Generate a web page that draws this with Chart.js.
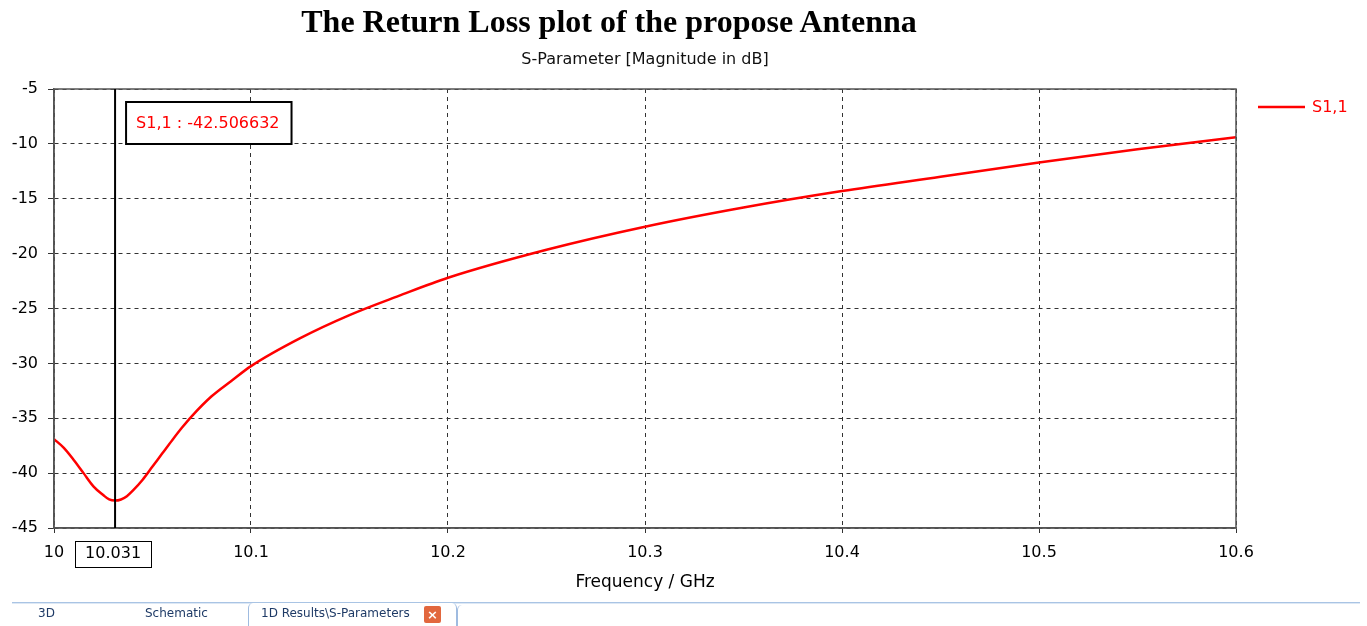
<!DOCTYPE html>
<html>
<head>
<meta charset="utf-8">
<script src="https://cdn.jsdelivr.net/npm/chart.js"></script>
<style>
  body { margin: 0; background: #fff; }
  #wrap { position: relative; width: 1367px; height: 626px; overflow: hidden; }
  #chart { position: absolute; left: 0; top: 0; }
  .txt { position: absolute; white-space: nowrap; }
  #title { left: 0; width: 1218px; top: 3px; text-align: center; font: bold 32px "Liberation Serif", serif; color: #000; }
  #subtitle { left: 0; width: 1290px; top: 49px; text-align: center; font: 16px "DejaVu Sans", sans-serif; color: #111; }
  #tabline { position: absolute; left: 12px; top: 602px; width: 1348px; height: 1px; background: #a9c4e4; }
  #tabline2 { position: absolute; left: 12px; top: 603px; width: 1348px; height: 1px; background: #dde8f5; }
  #activeTab { position: absolute; left: 248px; top: 603px; width: 207px; height: 30px; border: 1px solid #9fbbe0; border-top: none; border-radius: 5px 5px 0 0; background: #fff; }
  #nextTab { position: absolute; left: 457px; top: 605px; width: 900px; height: 30px; border-left: 1px solid #9fbbe0; border-radius: 5px 0 0 0; }
  .tab { top: 606px; font: 12px "DejaVu Sans", sans-serif; color: #1e3a66; }
  #close { position: absolute; left: 424px; top: 606px; width: 17px; height: 17px; background: #e2673e; border-radius: 2px; color: #fff; font: bold 13px "DejaVu Sans", sans-serif; line-height: 17px; text-align: center; }
</style>
</head>
<body>
<div id="wrap">
  <canvas id="chart" width="1367" height="626"></canvas>
  <div class="txt" id="title">The Return Loss plot of the propose Antenna</div>
  <div class="txt" id="subtitle">S-Parameter [Magnitude in dB]</div>
  <div id="tabline"></div>
  <div id="tabline2"></div>
  <div id="activeTab"></div>
  <div id="nextTab"></div>
  <div class="txt tab" style="left:38px">3D</div>
  <div class="txt tab" style="left:145px">Schematic</div>
  <div class="txt tab" style="left:261px">1D Results\S-Parameters</div>
  <div id="close">×</div>
</div>
<script>
// S11 curve
const freq = [10.0, 10.005, 10.01, 10.015, 10.02, 10.025, 10.028, 10.031, 10.034, 10.037, 10.04, 10.045,
  10.05, 10.055, 10.06, 10.065, 10.07, 10.08, 10.09, 10.1, 10.125, 10.15,
  10.175, 10.2, 10.25, 10.3, 10.35, 10.4, 10.45, 10.5, 10.55, 10.6];
const s11 = [-36.9, -37.7, -38.8, -40.0, -41.2, -42.0, -42.4, -42.5, -42.4, -42.1, -41.6, -40.6,
  -39.4, -38.2, -37.0, -35.85, -34.8, -33.0, -31.6, -30.25, -27.7, -25.6,
  -23.85, -22.2, -19.65, -17.55, -15.8, -14.3, -13.0, -11.7, -10.5, -9.4];

const xTicks = [10, 10.1, 10.2, 10.3, 10.4, 10.5, 10.6];
const yTicks = [-5, -10, -15, -20, -25, -30, -35, -40, -45];

const markerFreq = 10.031;
const markerValue = -42.506632;
const seriesName = 'S1,1';
const lineColor = '#ff0000';

const FONT = '"DejaVu Sans", sans-serif';

// frame, marker line, marker labels and legend
const overlay = {
  id: 'overlay',
  afterDatasetsDraw(chart) {
    const { ctx, chartArea: a, scales: { x } } = chart;
    ctx.save();

    // plot frame
    ctx.strokeStyle = '#555';
    ctx.lineWidth = 1.5;
    ctx.setLineDash([]);
    ctx.strokeRect(a.left, a.top, a.right - a.left, a.bottom - a.top);

    // vertical marker
    const mx = x.getPixelForValue(markerFreq);
    ctx.strokeStyle = '#000';
    ctx.lineWidth = 2;
    ctx.beginPath();
    ctx.moveTo(mx, a.top);
    ctx.lineTo(mx, a.bottom);
    ctx.stroke();

    // value box
    ctx.font = '16px ' + FONT;
    const txt = seriesName + ' : ' + markerValue.toFixed(6);
    const tw = ctx.measureText(txt).width;
    const bx = mx + 11, by = a.top + 13, bw = tw + 22, bh = 42;
    ctx.fillStyle = '#fff';
    ctx.fillRect(bx, by, bw, bh);
    ctx.strokeStyle = '#000';
    ctx.lineWidth = 2;
    ctx.strokeRect(bx, by, bw, bh);
    ctx.fillStyle = lineColor;
    ctx.textBaseline = 'middle';
    ctx.textAlign = 'left';
    ctx.fillText(txt, bx + 10, by + bh / 2 + 1);

    // boxed x label at marker
    const lbl = String(markerFreq);
    const lw = ctx.measureText(lbl).width;
    ctx.fillStyle = '#000';
    ctx.textAlign = 'center';
    ctx.fillText(lbl, mx - 2, a.bottom + 26);
    ctx.lineWidth = 1;
    ctx.strokeRect(Math.round(mx - 2 - lw / 2 - 10) + 0.5, a.bottom + 13.5, Math.round(lw + 20), 26);

    // legend
    const ly = a.top + 18;
    ctx.strokeStyle = lineColor;
    ctx.lineWidth = 2.5;
    ctx.beginPath();
    ctx.moveTo(a.right + 22, ly);
    ctx.lineTo(a.right + 69, ly);
    ctx.stroke();
    ctx.fillStyle = lineColor;
    ctx.textAlign = 'left';
    ctx.fillText(seriesName, a.right + 76, ly + 1);

    ctx.restore();
  }
};

new Chart(document.getElementById('chart'), {
  type: 'line',
  data: {
    datasets: [{
      label: seriesName,
      data: freq.map((f, i) => ({ x: f, y: s11[i] })),
      borderColor: lineColor,
      borderWidth: 2.5,
      pointRadius: 0,
      cubicInterpolationMode: 'monotone',
      fill: false
    }]
  },
  options: {
    responsive: false,
    animation: false,
    layout: { padding: { top: 89, right: 131, bottom: 33, left: 0 } },
    plugins: {
      legend: { display: false },
      tooltip: { enabled: false }
    },
    scales: {
      x: {
        type: 'linear',
        min: 10,
        max: 10.6,
        afterBuildTicks: s => { s.ticks = xTicks.map(v => ({ value: v })); },
        afterFit: s => { s.height = 65; },
        ticks: {
          color: '#000',
          font: { family: FONT, size: 16 },
          padding: 10,
          maxRotation: 0,
          autoSkip: false,
          callback: v => String(+v.toFixed(2))
        },
        grid: { color: '#333', lineWidth: 1, tickLength: 5, tickColor: '#333', tickBorderDash: [] },
        border: { display: true, color: '#555', width: 1.5, dash: [4, 4] },
        title: {
          display: true,
          text: 'Frequency / GHz',
          color: '#000',
          font: { family: FONT, size: 17 },
          padding: { top: 0, bottom: 0 }
        }
      },
      y: {
        min: -45,
        max: -5,
        afterBuildTicks: s => { s.ticks = yTicks.map(v => ({ value: v })); },
        afterFit: s => { s.width = 54; },
        ticks: {
          color: '#000',
          font: { family: FONT, size: 16 },
          padding: 10,
          autoSkip: false
        },
        grid: { color: '#333', lineWidth: 1, tickLength: 6, tickColor: '#333', tickBorderDash: [] },
        border: { display: true, color: '#555', width: 1.5, dash: [4, 4] }
      }
    }
  },
  plugins: [overlay]
});
</script>
</body>
</html>
